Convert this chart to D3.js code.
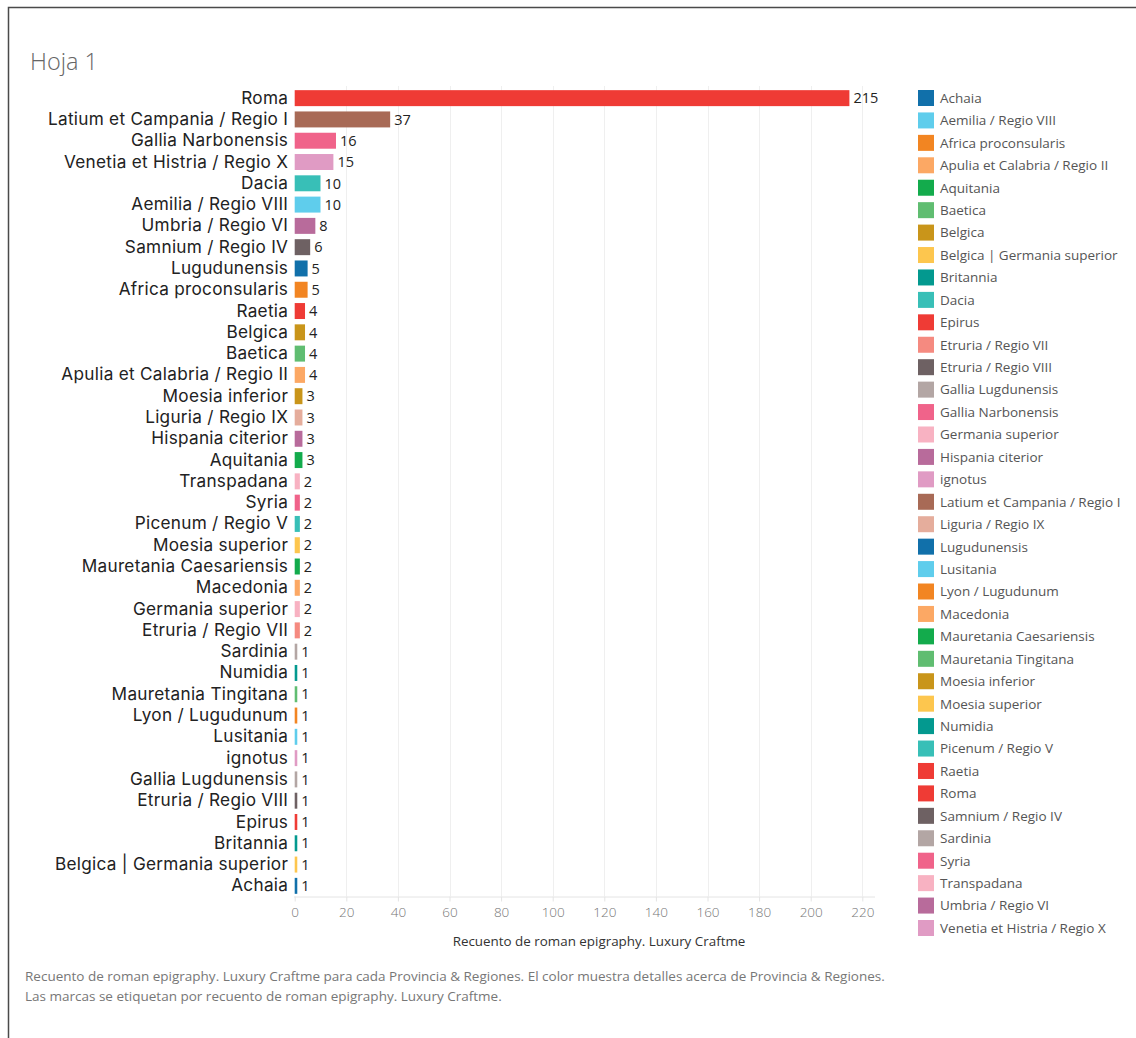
<!DOCTYPE html>
<html>
<head>
<meta charset="utf-8">
<script src="https://cdn.jsdelivr.net/npm/d3@7"></script>
<style>
  html, body { margin: 0; padding: 0; background: #fff; }
  svg { display: block; }
</style>
</head>
<body>
<svg id="chart" width="1136" height="1038"></svg>
<script>
// ---- data ----
const categories = [
  "Roma", "Latium et Campania / Regio I", "Gallia Narbonensis", "Venetia et Histria / Regio X",
  "Dacia", "Aemilia / Regio VIII", "Umbria / Regio VI", "Samnium / Regio IV", "Lugudunensis",
  "Africa proconsularis", "Raetia", "Belgica", "Baetica", "Apulia et Calabria / Regio II",
  "Moesia inferior", "Liguria / Regio IX", "Hispania citerior", "Aquitania", "Transpadana",
  "Syria", "Picenum / Regio V", "Moesia superior", "Mauretania Caesariensis", "Macedonia",
  "Germania superior", "Etruria / Regio VII", "Sardinia", "Numidia", "Mauretania Tingitana",
  "Lyon / Lugudunum", "Lusitania", "ignotus", "Gallia Lugdunensis", "Etruria / Regio VIII",
  "Epirus", "Britannia", "Belgica | Germania superior", "Achaia"
];
const counts = [
  215, 37, 16, 15, 10, 10, 8, 6, 5, 5, 4, 4, 4, 4, 3, 3, 3, 3, 2, 2, 2, 2, 2, 2, 2, 2,
  1, 1, 1, 1, 1, 1, 1, 1, 1, 1, 1, 1
];
const legendNames = [
  "Achaia", "Aemilia / Regio VIII", "Africa proconsularis", "Apulia et Calabria / Regio II",
  "Aquitania", "Baetica", "Belgica", "Belgica | Germania superior", "Britannia", "Dacia",
  "Epirus", "Etruria / Regio VII", "Etruria / Regio VIII", "Gallia Lugdunensis",
  "Gallia Narbonensis", "Germania superior", "Hispania citerior", "ignotus",
  "Latium et Campania / Regio I", "Liguria / Regio IX", "Lugudunensis", "Lusitania",
  "Lyon / Lugudunum", "Macedonia", "Mauretania Caesariensis", "Mauretania Tingitana",
  "Moesia inferior", "Moesia superior", "Numidia", "Picenum / Regio V", "Raetia", "Roma",
  "Samnium / Regio IV", "Sardinia", "Syria", "Transpadana", "Umbria / Regio VI",
  "Venetia et Histria / Regio X"
];
const legendColors = [
  "#1170aa", "#5fcdec", "#f28522", "#fca864", "#13ab4c", "#60bd71", "#c9951a", "#fdc64e",
  "#03998f", "#38bfb7", "#ef3b35", "#f58a80", "#6e6163", "#b3a6a4", "#f0638a", "#f8b2c2",
  "#b86b9b", "#e09bc4", "#a86a56", "#e5ad9c",
  "#1170aa", "#5fcdec", "#f28522", "#fca864", "#13ab4c", "#60bd71", "#c9951a", "#fdc64e",
  "#03998f", "#38bfb7", "#ef3b35", "#ef3b35", "#6e6163", "#b3a6a4", "#f0638a", "#f8b2c2",
  "#b86b9b", "#e09bc4"
];
const xTicks = [0, 20, 40, 60, 80, 100, 120, 140, 160, 180, 200, 220];
const title = "Hoja 1";
const xTitle = "Recuento de roman epigraphy. Luxury Craftme";
const footer = [
  "Recuento de roman epigraphy. Luxury Craftme para cada Provincia & Regiones.  El color muestra detalles acerca de Provincia & Regiones.",
  "Las marcas se etiquetan por recuento de roman epigraphy. Luxury Craftme."
];

// ---- drawing ----
const svg = d3.select("#chart");
const FONT = "'Open Sans', 'Noto Sans', sans-serif";
const LABEL_FONT = "Inter, 'Open Sans', sans-serif";

const color = d3.scaleOrdinal().domain(legendNames).range(legendColors);

const x = d3.scaleLinear().domain([0, 225]).range([294.7, 875.2]);
const y = d3.scaleBand().domain(categories).range([87.5, 896.5]).paddingInner(0.25).paddingOuter(0.125);

// border
svg.append("path").attr("d", "M8.5,1038 V7.5 H1136")
  .attr("fill", "none").attr("stroke", "#4a4a4a").attr("stroke-width", 1.5);

// title
svg.append("text").attr("x", 30).attr("y", 70).text(title)
  .attr("font-family", FONT).attr("font-size", 23.5).attr("font-weight", 300).attr("fill", "#666");

// gridlines
svg.append("g").selectAll("line").data(xTicks.filter(d => d > 0)).join("line")
  .attr("x1", d => Math.round(x(d)) + 0.5).attr("x2", d => Math.round(x(d)) + 0.5)
  .attr("y1", 86).attr("y2", 896)
  .attr("stroke", "#efefef").attr("stroke-width", 1);

// bars
svg.append("g").selectAll("rect").data(categories).join("rect")
  .attr("x", x(0)).attr("y", d => y(d))
  .attr("width", (d, i) => x(counts[i]) - x(0))
  .attr("height", y.bandwidth())
  .attr("fill", d => color(d));

// value labels
svg.append("g").selectAll("text").data(categories).join("text")
  .attr("x", (d, i) => x(counts[i]) + 4)
  .attr("y", d => y(d) + y.bandwidth() / 2)
  .attr("dy", "0.36em")
  .text((d, i) => counts[i])
  .attr("font-family", FONT).attr("font-size", 14.5).attr("fill", "#222");

// category labels
const yAxis = svg.append("g").attr("transform", `translate(${x(0) - 6.5},0)`)
  .call(d3.axisLeft(y).tickSize(0).tickPadding(0));
yAxis.select(".domain").remove();
yAxis.selectAll("text").attr("font-family", LABEL_FONT).attr("font-size", 17.2)
  .attr("letter-spacing", 0.28).attr("fill", "#222");

// x axis
const xAxis = svg.append("g").attr("transform", "translate(0,896.5)")
  .call(d3.axisBottom(x).tickValues(xTicks).tickSize(5).tickPadding(6).tickSizeOuter(0));
xAxis.select(".domain").attr("stroke", "#e4e4e4").attr("d", "M294,0.5H875");
xAxis.selectAll(".tick line").attr("stroke", "#e4e4e4");
xAxis.selectAll("text").attr("font-family", FONT).attr("font-size", 13.5).attr("font-weight", 300).attr("fill", "#777");

svg.append("text").attr("x", 599).attr("y", 946).attr("text-anchor", "middle").text(xTitle)
  .attr("font-family", FONT).attr("font-size", 13.4).attr("fill", "#333");

// legend
const ly = d3.scalePoint().domain(legendNames).range([98, 928]);
const lg = svg.append("g").selectAll("g").data(legendNames).join("g")
  .attr("transform", d => `translate(918,${ly(d)})`);
lg.append("rect").attr("x", 0).attr("y", -8).attr("width", 16).attr("height", 16).attr("fill", d => color(d));
lg.append("text").attr("x", 22).attr("dy", "0.36em").text(d => d)
  .attr("font-family", FONT).attr("font-size", 13.5).attr("fill", "#555");

// footer
svg.append("g").selectAll("text").data(footer).join("text")
  .attr("x", 25).attr("y", (d, i) => 981 + i * 20).text(d => d)
  .attr("font-family", FONT).attr("font-size", 13.5).attr("fill", "#777");
</script>
</body>
</html>
